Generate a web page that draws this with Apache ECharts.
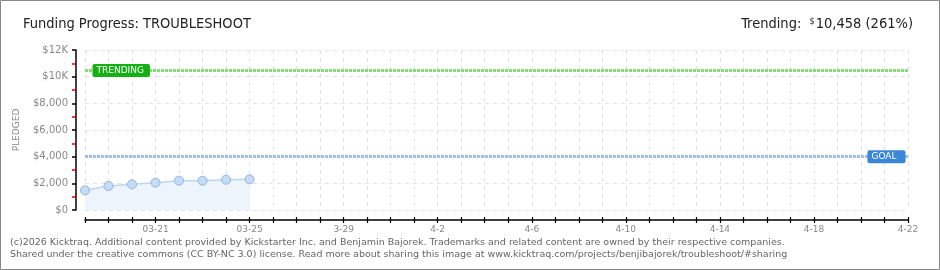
<!DOCTYPE html>
<html>
<head>
<meta charset="utf-8">
<script src="https://cdn.jsdelivr.net/npm/echarts@6/dist/echarts.min.js"></script>
<style>
html,body{margin:0;padding:0;background:#fff;}
#c{width:940px;height:270px;}
</style>
</head>
<body>
<div id="c"></div>
<script>
// ---- data ----
var categories = ['03-18','03-19','03-20','03-21','03-22','03-23','03-24','03-25','03-26','03-27','03-28','3-29','03-30','03-31',
  '4-1','4-2','4-3','4-4','4-5','4-6','4-7','4-8','4-9','4-10','4-11','4-12','4-13','4-14','4-15','4-16','4-17','4-18','4-19','4-20','4-21','4-22'];
var pledged = [1475, 1800, 1925, 2050, 2200, 2200, 2275, 2300];
var trendingValue = 10458;
var goalValue = 4000;
var titleText = 'Funding Progress: TROUBLESHOOT';
var trendingText = '10,458 (261%)';
var footer1 = '(c)2026 Kicktraq. Additional content provided by Kickstarter Inc. and Benjamin Bajorek. Trademarks and related content are owned by their respective companies.';
var footer2 = 'Shared under the creative commons (CC BY-NC 3.0) license. Read more about sharing this image at www.kicktraq.com/projects/benjibajorek/troubleshoot/#sharing';

var chart = echarts.init(document.getElementById('c'), null, {renderer: 'canvas'});
var labelFont = 'DejaVu Sans';
function fmtY(v) {
  if (v >= 10000) return '$' + (v / 1000) + 'K';
  return '$' + v.toLocaleString('en-US');
}
var option = {
  animation: false,
  backgroundColor: '#fff',
  title: [
    {text: titleText, left: 18, top: 12,
     textStyle: {fontFamily: 'DejaVu Sans Condensed', fontSize: 14.5, fontWeight: 'normal', color: '#222'}},
    {text: '{l|Trending:  }{s|$}{v|' + trendingText + '}', right: 22, top: 12,
     textStyle: {fontWeight: 'normal', rich: {
       l: {fontFamily: 'DejaVu Sans Condensed', fontSize: 14.5, fontWeight: 'normal', color: '#222'},
       s: {fontFamily: 'DejaVu Sans Condensed', fontSize: 9, fontWeight: 'normal', color: '#222', verticalAlign: 'top', padding:[0,1,6,0]},
       v: {fontFamily: 'DejaVu Sans Condensed', fontSize: 14.5, fontWeight: 'normal', color: '#222'}
     }}}
  ],
  grid: {left: 85, right: 32, top: 50, bottom: 60, containLabel: false},
  xAxis: [{
    type: 'category', data: categories, boundaryGap: false, offset: 10,
    axisLine: {onZero: false, lineStyle: {color: '#000', width: 1.5}},
    axisTick: {show: true, interval: 0, length: 3, lineStyle: {color: '#000', width: 1.2}},
    axisLabel: {interval: function (i) { return i % 4 === 3; }, color: '#888', fontFamily: labelFont, fontSize: 9, margin: 5},
    splitLine: {show: true, interval: 0, lineStyle: {color: '#e2e2e2', type: [4, 4]}}
  }, {
    type: 'category', data: categories, boundaryGap: false, offset: 10, position: 'bottom',
    axisLine: {show: false, onZero: false},
    axisTick: {show: true, inside: true, interval: 0, length: 3, lineStyle: {color: '#000', width: 1.2}},
    axisLabel: {show: false}, splitLine: {show: false}
  }],
  yAxis: {
    type: 'value', min: 0, max: 12000, interval: 2000, offset: 9,
    name: 'PLEDGED', nameLocation: 'middle', nameGap: 55, nameRotate: 90,
    nameTextStyle: {color: '#888', fontFamily: labelFont, fontSize: 9, letterSpacing: 3},
    axisLine: {show: true, onZero: false, lineStyle: {color: '#000', width: 1.5}},
    axisTick: {show: true, length: 4, lineStyle: {color: '#000', width: 1.5}},
    minorTick: {show: true, splitNumber: 2, length: 4, lineStyle: {color: '#e00000', width: 1.5}},
    axisLabel: {formatter: fmtY, color: '#888', fontFamily: labelFont, fontSize: 10, margin: 8},
    splitLine: {show: true, lineStyle: {color: '#e2e2e2', type: [4, 4]}}
  },
  series: [{
    type: 'line', data: pledged, symbol: 'circle', symbolSize: 9,
    lineStyle: {color: '#bcd6f2', width: 1.5},
    itemStyle: {color: '#c6dcf6', borderColor: '#92b5e0', borderWidth: 1},
    areaStyle: {color: '#edf4fc', opacity: 1},
    z: 3,
    markLine: {
      silent: true, symbol: 'none', animation: false,
      label: {show: false},
      data: [
        {yAxis: trendingValue, lineStyle: {color: '#86dc78', width: 3, type: [3, 1]}},
        {yAxis: goalValue, lineStyle: {color: '#a2c0e8', width: 3, type: [3, 1]}}
      ]
    },
    markPoint: {
      silent: true, symbol: 'rect', symbolSize: 1, itemStyle: {color: 'rgba(0,0,0,0)'},
      data: [
        {coord: [0, trendingValue], label: {show: true, position: 'right', distance: 7, formatter: 'TRENDING',
          backgroundColor: '#14b014', color: '#fff', fontFamily: labelFont, fontSize: 9, padding: [2, 6, 2, 4], borderRadius: 2}},
        {coord: [categories.length - 1, goalValue], label: {show: true, position: 'left', distance: 2, formatter: 'GOAL',
          backgroundColor: '#3a86d8', color: '#fff', fontFamily: labelFont, fontSize: 9, padding: [2, 9, 2, 4], borderRadius: 2}}
      ]
    }
  }],
  graphic: [
    {type: 'rect', shape: {x: 0.5, y: 0.5, width: 939, height: 269}, style: {fill: 'none', stroke: '#888', lineWidth: 1}, z: 100},
    {type: 'text', left: 10, top: 238, style: {text: footer1, fill: '#666', font: '9.5px "DejaVu Sans"'}},
    {type: 'text', left: 10, top: 250, style: {text: footer2, fill: '#666', font: '9.5px "DejaVu Sans"'}}
  ]
};
chart.setOption(option);
</script>
</body>
</html>
